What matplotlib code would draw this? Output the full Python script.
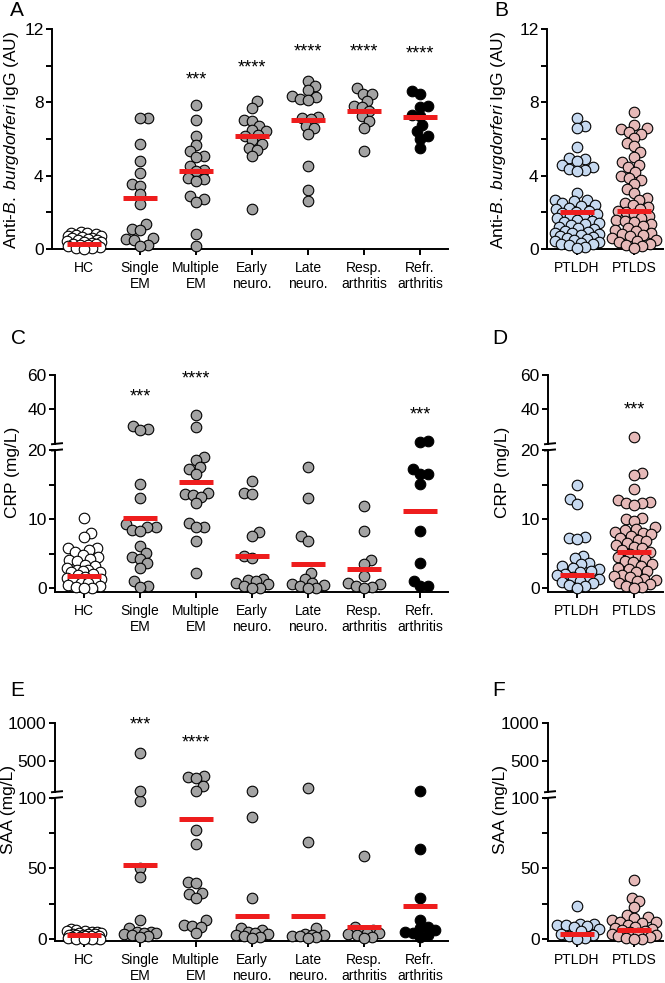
import numpy as np
import matplotlib
matplotlib.use("Agg")
import matplotlib.pyplot as plt
from matplotlib.lines import Line2D

W, H = 665, 983

# ---- data ----
disease_groups = ["HC", "Single\nEM", "Multiple\nEM", "Early\nneuro.", "Late\nneuro.",
                  "Resp.\narthritis", "Refr.\narthritis"]
ptld_groups = ["PTLDH", "PTLDS"]

igg_hc = [0.95, 0.9, 0.85, 0.8, 0.78, 0.72, 0.7, 0.65, 0.6, 0.58, 0.55, 0.5, 0.48, 0.45,
          0.4, 0.38, 0.35, 0.3, 0.25, 0.22, 0.2, 0.15, 0.12, 0.08, 0.05, 0.02]
igg_single = [7.15, 7.15, 5.75, 4.78, 4.15, 3.55, 3.45, 3.0, 2.45, 1.38, 1.09, 1.05, 0.58,
              0.55, 0.5, 0.24, 0.18]
igg_multiple = [7.84, 7.05, 6.18, 5.69, 5.33, 5.09, 5.02, 4.55, 4.29, 4.24, 3.87, 3.82,
                3.69, 2.87, 2.73, 2.56, 0.8, 0.18]
igg_early = [8.05, 7.69, 7.05, 6.96, 6.73, 6.51, 6.42, 6.24, 6.15, 5.96, 5.75, 5.51, 5.42,
             5.05, 2.2]
igg_late = [9.18, 8.9, 8.65, 8.33, 8.29, 8.18, 8.15, 7.2, 7.15, 7.09, 6.73, 6.6, 6.27,
            4.55, 3.24, 2.6]
igg_resp = [8.78, 8.45, 8.45, 8.09, 7.82, 7.75, 7.51, 7.24, 6.96, 6.6, 5.36]
igg_refr = [8.6, 8.45, 7.78, 7.73, 7.33, 7.27, 6.78, 6.42, 6.15, 6.0, 5.51]
igg_mid = [0.3, 2.8, 4.24, 6.18, 7.05, 7.51, 7.2]
igg_ptldh = [7.15, 6.7, 6.6, 5.55, 4.95, 4.9, 4.8, 4.6, 4.45, 4.35, 4.3, 4.25, 3.05, 2.7,
             2.65, 2.6, 2.5, 2.4, 2.35, 2.25, 2.2, 2.1, 2.0, 1.95, 1.9, 1.8, 1.75, 1.7, 1.6,
             1.55, 1.5, 1.4, 1.35, 1.3, 1.2, 1.15, 1.1, 1.0, 0.95, 0.9, 0.85, 0.8, 0.75,
             0.7, 0.65, 0.6, 0.55, 0.5, 0.45, 0.4, 0.35, 0.3, 0.25, 0.2, 0.1, 0.05]
igg_ptlds = [7.5, 6.75, 6.6, 6.55, 6.4, 6.3, 6.05, 5.8, 5.6, 5.3, 5.0, 4.75, 4.6, 4.45,
             4.2, 4.0, 3.9, 3.75, 3.55, 3.3, 3.05, 2.8, 2.65, 2.5, 2.4, 2.3, 2.2, 2.1, 2.0,
             1.9, 1.8, 1.7, 1.6, 1.55, 1.45, 1.35, 1.25, 1.15, 1.05, 1.0, 0.9, 0.8, 0.75,
             0.7, 0.6, 0.5, 0.45, 0.4, 0.3, 0.2, 0.15, 0.05]
igg_ptld_mid = [2.0, 2.05]

crp_hc = [10.2, 8.0, 7.4, 5.9, 5.8, 5.6, 5.3, 4.8, 4.6, 4.3, 4.1, 3.9, 3.4, 3.2, 2.9, 2.7,
          2.6, 2.5, 2.4, 2.3, 2.1, 1.9, 1.7, 1.5, 1.4, 1.2, 1.0, 0.8, 0.7, 0.5, 0.4, 0.2,
          0.1, 0.0]
crp_single = [30.3, 28.4, 28.0, 15.1, 13.1, 9.3, 8.9, 8.8, 8.5, 8.3, 6.1, 5.1, 4.6, 4.3,
              3.7, 3.0, 1.0, 0.3, 0.2]
crp_multiple = [36.7, 29.9, 19.0, 18.6, 17.6, 17.3, 16.6, 13.8, 13.7, 13.5, 13.2, 12.3,
                9.4, 8.8, 8.8, 6.9, 2.2]
crp_early = [15.5, 13.8, 13.7, 8.1, 7.5, 4.7, 4.4, 1.4, 1.2, 1.0, 0.7, 0.6, 0.4, 0.1, 0.0]
crp_late = [17.6, 13.0, 7.6, 6.9, 2.2, 1.4, 0.7, 0.6, 0.5, 0.3, 0.1, 0.0]
crp_resp = [11.9, 8.3, 4.1, 3.5, 1.8, 0.7, 0.6, 0.3, 0.2, 0.0]
crp_refr = [21.5, 20.8, 17.3, 16.6, 16.6, 15.1, 8.3, 3.6, 1.1, 0.4, 0.3]
crp_mid = [1.8, 10.2, 15.4, 4.7, 3.5, 2.8, 11.2]
crp_ptldh = [14.9, 12.9, 12.2, 7.4, 7.3, 7.2, 4.7, 4.4, 3.7, 3.5, 3.2, 3.0, 2.8, 2.5, 2.3,
             2.1, 1.9, 1.7, 1.5, 1.3, 1.1, 0.9, 0.7, 0.5, 0.3, 0.1]
crp_ptlds = [23.7, 16.7, 16.4, 14.4, 12.7, 12.5, 12.4, 12.3, 12.1, 10.1, 10.0, 9.8, 8.8,
             8.6, 8.4, 8.2, 8.0, 7.8, 7.6, 7.3, 7.0, 6.8, 6.5, 6.3, 6.0, 5.8, 5.5, 5.3, 5.0,
             4.8, 4.5, 4.3, 4.0, 3.8, 3.5, 3.3, 3.0, 2.8, 2.5, 2.3, 2.0, 1.8, 1.6, 1.4, 1.2,
             1.0, 0.8, 0.6, 0.4, 0.2, 0.0]
crp_ptld_mid = [2.0, 5.3]

saa_hc = [7.0, 6.5, 6.0, 5.5, 5.0, 4.8, 4.5, 4.2, 4.0, 3.8, 3.5, 3.2, 3.0, 2.8, 2.5, 2.2,
          2.0, 1.8, 1.5, 1.2, 1.0, 0.8, 0.5, 0.3, 0.1, 0.0]
saa_single = [609, 113, 98, 50, 44, 13.6, 7.8, 5.4, 5.0, 4.7, 4.5, 3.8, 3.1, 2.4, 1.5]
saa_multiple = [300, 290, 280, 180, 115, 77, 67, 40.7, 39.5, 32.5, 31.8, 28.9, 13.6, 10.1,
                9.4, 8.9, 4.2]
saa_early = [105, 86.6, 28.9, 7.8, 6.6, 5.4, 4.2, 3.8, 3.1, 2.4, 1.9, 0.7]
saa_late = [152, 68.5, 8.2, 3.8, 3.3, 3.1, 2.6, 2.4, 1.9, 0.7]
saa_resp = [59, 8.9, 6.6, 5.4, 4.7, 4.5, 3.8, 3.1, 1.9, 0.7]
saa_refr = [108, 63.5, 29.4, 13.6, 8.9, 7.8, 6.6, 5.4, 4.7, 3.1, 1.9]
saa_mid = [2.8, 52.5, 85, 16.7, 16.7, 8.9, 23.5]
saa_ptldh = [23.5, 11.0, 10.5, 10.0, 9.8, 9.5, 8.5, 7.0, 5.5, 4.0, 3.0, 2.0, 1.0, 0.5]
saa_ptlds = [41.9, 29.4, 27.3, 23.0, 17.2, 15.5, 14.8, 13.6, 12.5, 12.0, 11.3, 10.1, 9.0,
             8.2, 7.5, 6.6, 5.8, 5.0, 4.2, 3.5, 2.8, 2.0, 1.5, 1.0, 0.5, 0.2]
saa_ptld_mid = [3.5, 6.6]

stars_igg = ["", "", "***", "****", "****", "****", "****"]
stars_igg_y = [0, 0, 9.2, 9.85, 10.75, 10.75, 10.65]
stars_crp = ["", "***", "****", "", "", "", "***"]
stars_crp_y = [0, 47, 57.5, 0, 0, 0, 36.7]
stars_crp_ptld = ["", "***"]
stars_crp_ptld_y = [0, 39.6]
stars_saa = ["", "***", "****", "", "", "", ""]
stars_saa_y = [0, 970, 739, 0, 0, 0, 0]

# ---- style ----
plt.rcParams.update({
    "font.family": ["Liberation Sans", "DejaVu Sans"],
    "mathtext.fontset": "custom",
    "mathtext.rm": "Liberation Sans",
    "mathtext.it": "Liberation Sans:italic",
})
GRAY, WHITE, BLACK = "#a3a3a3", "white", "black"
BLUE, PINK = "#c6d9f0", "#e6b9b8"
RED = "#ee1d1d"
disease_colors = [WHITE, GRAY, GRAY, GRAY, GRAY, GRAY, BLACK]
ptld_colors = [BLUE, PINK]
MARKER_S = 58
SWARM_D = 8.2
LW = 1.4


def add_axes_px(fig, left, right, top, bottom):
    return fig.add_axes([left / W, 1 - bottom / H, (right - left) / W, (bottom - top) / H])


def style(ax, labels=None, show_x=True):
    for side in ("top", "right"):
        ax.spines[side].set_visible(False)
    ax.spines["left"].set_linewidth(LW)
    ax.spines["bottom"].set_linewidth(LW)
    ax.patch.set_visible(False)
    ax.tick_params(axis="y", which="both", direction="out", width=LW, length=4, labelsize=12.5, pad=2)
    if show_x:
        ax.set_xticks(range(len(labels)))
        ax.set_xticklabels(labels)
        ax.tick_params(axis="x", direction="out", width=LW, length=4.5, labelsize=10, pad=4)
    else:
        ax.spines["bottom"].set_visible(False)
        ax.tick_params(axis="x", bottom=False, labelbottom=False)


def swarm(ypx, d, max_half):
    xs = np.zeros(len(ypx))
    placed = []
    side = 1
    for i in np.argsort(ypx):
        y = ypx[i]
        spans = []
        for px, py in placed:
            dy = abs(py - y)
            if dy < d:
                w = np.sqrt(d * d - dy * dy)
                spans.append((px - w, px + w))
        cands = [0.0] + [a for a, _ in spans] + [b for _, b in spans]
        ok = [c for c in cands if all(not (a + 1e-6 < c < b - 1e-6) for a, b in spans)]
        best = min(ok, key=lambda c: (round(abs(c), 3), -side * c))
        if abs(best) > max_half:
            grid = np.linspace(-max_half, max_half, 49)
            best = max(grid, key=lambda g: min(np.hypot(px - g, py - y) for px, py in placed))
        if best != 0:
            side = -np.sign(best)
        xs[i] = best
        placed.append((best, y))
    return xs


def draw_groups(lower, upper, brk, groups, colors, mids, max_half):
    ppu = lower.transData.transform((1, 0))[0] - lower.transData.transform((0, 0))[0]
    for i, (vals, color, mid) in enumerate(zip(groups, colors, mids)):
        vals = np.asarray(vals, float)
        up = vals > brk if upper is not None else np.zeros(len(vals), bool)
        ypx = np.array([(upper if u else lower).transData.transform((i, v))[1]
                        for v, u in zip(vals, up)])
        dx = swarm(ypx, SWARM_D, max_half) / ppu
        for ax, mask in ((lower, ~up), (upper, up)):
            if ax is None or not mask.any():
                continue
            ax.scatter(i + dx[mask], vals[mask], s=MARKER_S, facecolors=color,
                       edgecolors="black", linewidths=0.8, zorder=3, clip_on=False)
        ax_mid = upper if (upper is not None and mid > brk) else lower
        ax_mid.plot([i - 0.3, i + 0.3], [mid, mid], color=RED, lw=3.6,
                    solid_capstyle="butt", zorder=4, clip_on=False)


def add_stars(axes_for, labels, ys):
    for i, (s, y) in enumerate(zip(labels, ys)):
        if s:
            axes_for(y).text(i, y, s, ha="center", va="center", fontsize=13)


def break_marks(fig, x, y_top, y_bottom):
    for y in (y_top, y_bottom):
        fig.add_artist(Line2D([(x - 3) / W, (x + 7) / W], [1 - (y + 0.5) / H, 1 - (y - 0.5) / H],
                              transform=fig.transFigure, color="black", lw=LW))


def ylabel(fig, x, y, text):
    fig.text(x / W, 1 - y / H, text, rotation=90, ha="center", va="center", fontsize=12.5)


def panel_letter(fig, x, y, letter):
    fig.text(x / W, 1 - y / H, letter, ha="center", va="center", fontsize=15)


fig = plt.figure(figsize=(W / 100, H / 100), dpi=100)

# A
axA = add_axes_px(fig, 52, 448, 29, 249)
axA.set_xlim(-0.571, 6.5)
axA.set_ylim(0, 12)
axA.set_yticks([0, 4, 8, 12])
axA.set_yticks([2, 6, 10], minor=True)
style(axA, disease_groups)
draw_groups(axA, None, None,
            [igg_hc, igg_single, igg_multiple, igg_early, igg_late, igg_resp, igg_refr],
            disease_colors, igg_mid, 17)
add_stars(lambda y: axA, stars_igg, stars_igg_y)

# B
axB = add_axes_px(fig, 547, 663, 29, 249)
axB.set_xlim(-0.526, 1.509)
axB.set_ylim(0, 12)
axB.set_yticks([0, 4, 8, 12])
axB.set_yticks([2, 6, 10], minor=True)
style(axB, ptld_groups)
draw_groups(axB, None, None, [igg_ptldh, igg_ptlds], ptld_colors, igg_ptld_mid, 22)

igg_label = r"Anti-$\mathit{B.\ burgdorferi}$ IgG (AU)"
ylabel(fig, 12, 140, igg_label)
ylabel(fig, 498, 140, igg_label)


def broken_pair(left, right, low_top, low_bottom, up_top, up_bottom, xlim, low_lim, up_lim,
                low_ticks, low_minor, up_ticks, labels):
    lo = add_axes_px(fig, left, right, low_top, low_bottom)
    hi = add_axes_px(fig, left, right, up_top, up_bottom)
    for ax in (lo, hi):
        ax.set_xlim(*xlim)
    lo.set_ylim(*low_lim)
    hi.set_ylim(*up_lim)
    lo.set_yticks(low_ticks)
    lo.set_yticks(low_minor, minor=True)
    hi.set_yticks(up_ticks)
    style(lo, labels)
    style(hi, show_x=False)
    break_marks(fig, left, up_bottom, low_top)
    return lo, hi


# C
cLo, cHi = broken_pair(55, 448, 450, 592, 375, 443.7, (-0.518, 6.5), (-0.53, 20), (20, 60),
                       [0, 10, 20], [5, 15], [40, 60], disease_groups)
draw_groups(cLo, cHi, 20,
            [crp_hc, crp_single, crp_multiple, crp_early, crp_late, crp_resp, crp_refr],
            disease_colors, crp_mid, 17)
add_stars(lambda y: cHi if y > 20 else cLo, stars_crp, stars_crp_y)

# D
dLo, dHi = broken_pair(548, 663, 450, 592, 375, 443.7, (-0.509, 1.509), (-0.53, 20), (20, 60),
                       [0, 10, 20], [5, 15], [40, 60], ptld_groups)
draw_groups(dLo, dHi, 20, [crp_ptldh, crp_ptlds], ptld_colors, crp_ptld_mid, 22)
add_stars(lambda y: dHi if y > 20 else dLo, stars_crp_ptld, stars_crp_ptld_y)

ylabel(fig, 13, 472, "CRP (mg/L)")
ylabel(fig, 503, 472, "CRP (mg/L)")

# E
eLo, eHi = broken_pair(55, 448, 797.7, 940.7, 722.7, 791.7, (-0.518, 6.5), (-1, 100), (100, 1000),
                       [0, 50, 100], [25, 75], [500, 1000], disease_groups)
draw_groups(eLo, eHi, 100,
            [saa_hc, saa_single, saa_multiple, saa_early, saa_late, saa_resp, saa_refr],
            disease_colors, saa_mid, 17)
add_stars(lambda y: eHi if y > 100 else eLo, stars_saa, stars_saa_y)

# F
fLo, fHi = broken_pair(548, 663, 797.7, 940.7, 722.7, 791.7, (-0.509, 1.509), (-1, 100), (100, 1000),
                       [0, 50, 100], [25, 75], [500, 1000], ptld_groups)
draw_groups(fLo, fHi, 100, [saa_ptldh, saa_ptlds], ptld_colors, saa_ptld_mid, 22)

ylabel(fig, 9, 810, "SAA (mg/L)")
ylabel(fig, 501, 810, "SAA (mg/L)")

for (x, y), letter in zip([(17, 11), (501, 11), (19, 338), (500, 339), (17, 691), (499, 691)],
                          "ABCDEF"):
    panel_letter(fig, x, y, letter)

fig.savefig("out.png", dpi=100)
